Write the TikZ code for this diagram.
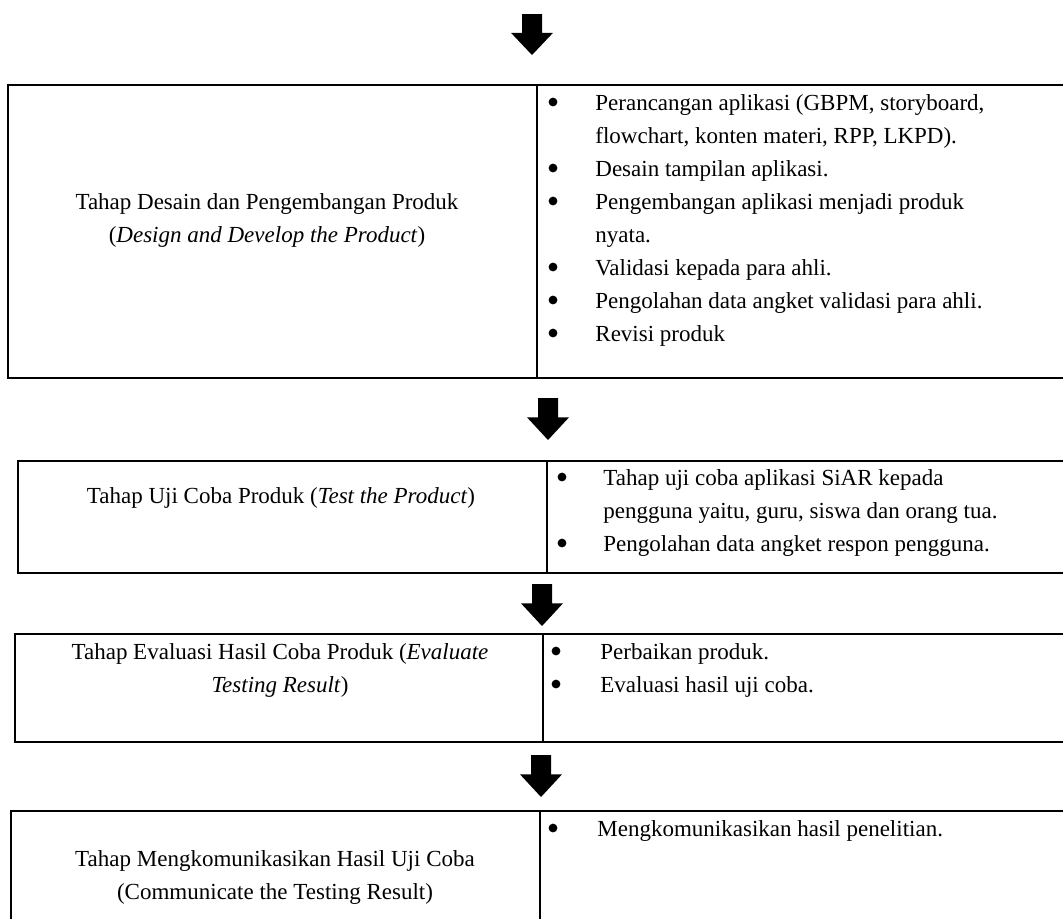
\documentclass[tikz,border=0pt]{standalone}
\usepackage{fontspec}
\setmainfont{Liberation Serif}
\begin{document}
\begin{tikzpicture}[x=0.5pt,y=-0.5pt,
  txt/.style={inner sep=0pt,font=\fontsize{11.5pt}{16.5pt}\selectfont},
  lc/.style={txt,anchor=base},
  lt/.style={txt,anchor=base west},
  bul/.style={circle,fill=black,draw=none,inner sep=0pt,minimum size=4.4pt},
  frame/.style={draw=black,line width=1pt}]
\useasboundingbox (0,0) rectangle (1063,918);
\clip (0,0) rectangle (1063,918);
% arrows
\newcommand{\barrow}[3]{% center x, top y, tip y
  \fill[black] ({#1-10},#2) -- ({#1+10},#2) -- ({#1+10},{#2+0.46*(#3-#2)}) -- ({#1+21},{#2+0.46*(#3-#2)}) -- (#1,#3) -- ({#1-21},{#2+0.46*(#3-#2)}) -- ({#1-10},{#2+0.46*(#3-#2)}) -- cycle;}
\barrow{532}{14}{55}
\barrow{548}{398}{440}
\barrow{542}{584}{626}
\barrow{541}{755}{797}
% box 1
\draw[frame] (1070,85) -- (8,85) -- (8,378) -- (1070,378);
\draw[frame] (537,85) -- (537,378);
\node[lc] (a1) at (267,209) {Tahap Desain dan Pengembangan Produk};
\node[lc] (a2) at (267,242) {(\textit{Design and Develop the Product})};
\foreach \y/\t/\b in {110/{Perancangan aplikasi (GBPM, storyboard,}/1,
  143/{flowchart, konten materi, RPP, LKPD).}/0,
  176/{Desain tampilan aplikasi.}/1,
  209/{Pengembangan aplikasi menjadi produk}/1,
  242/{nyata.}/0,
  275/{Validasi kepada para ahli.}/1,
  308/{Pengolahan data angket validasi para ahli.}/1,
  341/{Revisi produk}/1}{
  \node[lt] (b\y) at (595,\y) {\t};
  \ifnum\b=1 \node[bul] (d\y) at (553,\y-8) {}; \fi
}
% box 2
\draw[frame] (1070,461) -- (18,461) -- (18,573) -- (1070,573);
\draw[frame] (547,461) -- (547,573);
\node[lc] (c1) at (281,503) {Tahap Uji Coba Produk (\textit{Test the Product})};
\node[bul] (e1) at (562,477) {};
\node[lt] (f1) at (603,485) {Tahap uji coba aplikasi SiAR kepada};
\node[lt] (f2) at (603,518) {pengguna yaitu, guru, siswa dan orang tua.};
\node[bul] (e3) at (562,543) {};
\node[lt] (f3) at (603,551) {Pengolahan data angket respon pengguna.};
% box 3
\draw[frame] (1070,634) -- (15,634) -- (15,742) -- (1070,742);
\draw[frame] (543,634) -- (543,742);
\node[lc] (g1) at (280,659) {Tahap Evaluasi Hasil Coba Produk (\textit{Evaluate}};
\node[lc] (g2) at (280,692) {\textit{Testing Result})};
\node[bul] (h1) at (556,651) {};
\node[lt] (i1) at (600,659) {Perbaikan produk.};
\node[bul] (h2) at (556,684) {};
\node[lt] (i2) at (600,692) {Evaluasi hasil uji coba.};
% box 4
\draw[frame] (1070,811) -- (11,811) -- (11,930);
\draw[frame] (540,811) -- (540,930);
\node[lc] (j1) at (275,866) {Tahap Mengkomunikasikan Hasil Uji Coba};
\node[lc] (j2) at (275,899) {(Communicate the Testing Result)};
\node[bul] (k1) at (553,828) {};
\node[lt] (l1) at (597,836) {Mengkomunikasikan hasil penelitian.};
\end{tikzpicture}
\end{document}
